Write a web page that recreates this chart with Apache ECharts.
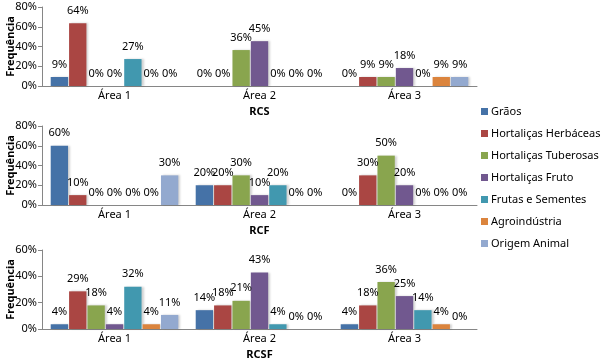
<!DOCTYPE html>
<html>
<head>
<meta charset="utf-8">
<script src="https://cdn.jsdelivr.net/npm/echarts@6/dist/echarts.min.js"></script>
<style>
  html, body { margin: 0; padding: 0; background: #ffffff; }
  #chart { width: 605px; height: 362px; }
</style>
</head>
<body>
<div id="chart"></div>
<script>
// categorias e séries
const areas = ['Área 1', 'Área 2', 'Área 3'];
const seriesNames = ['Grãos', 'Hortaliças Herbáceas', 'Hortaliças Tuberosas', 'Hortaliças Fruto',
  'Frutas e Sementes', 'Agroindústria', 'Origem Animal'];
const colors = ['#4572A7', '#AA4643', '#89A54E', '#71588F', '#4198AF', '#DB843D', '#93A9CF'];

// valores (%) por série, na ordem Área 1, Área 2, Área 3
const rcsValues = [
  [9.1, 0, 0],
  [63.6, 0, 9.1],
  [0, 36.4, 9.1],
  [0, 45.4, 18.2],
  [27.3, 0, 0],
  [0, 0, 9.1],
  [0, 0, 9.1]
];
const rcfValues = [
  [60, 20, 0],
  [10, 20, 30],
  [0, 30, 50],
  [0, 10, 20],
  [0, 20, 0],
  [0, 0, 0],
  [30, 0, 0]
];
const rcsfValues = [
  [3.6, 14.3, 3.6],
  [28.6, 17.9, 17.9],
  [17.9, 21.4, 35.7],
  [3.6, 42.9, 25],
  [32.1, 3.6, 14.3],
  [3.6, 0, 3.6],
  [10.7, 0, 0]
];

const panelTitles = ['RCS', 'RCF', 'RCSF'];
const panelMax = [80, 80, 60];
const panelValues = [rcsValues, rcfValues, rcsfValues];

const font = 'Noto Sans';
const gridTops = [7, 126, 250];
const gridHeights = [79, 79, 79];

const myChart = echarts.init(document.getElementById('chart'), null, {renderer: 'canvas'});

const grids = [];
const xAxes = [];
const yAxes = [];
const series = [];

panelTitles.forEach((title, i) => {
  grids.push({left: 42, width: 435, top: gridTops[i], height: gridHeights[i], outerBoundsMode: 'none', containLabel: false});
  xAxes.push({
    type: 'category',
    gridIndex: i,
    data: areas,
    name: title,
    nameLocation: 'middle',
    nameGap: 20,
    nameMoveOverlap: false,
    nameTextStyle: {fontFamily: font, fontSize: 11, fontWeight: 'bold', color: '#000'},
    axisLine: {lineStyle: {color: '#868686'}},
    axisTick: {show: false},
    axisLabel: {fontFamily: font, fontSize: 11, color: '#000', margin: 4}
  });
  yAxes.push({
    type: 'value',
    gridIndex: i,
    min: 0,
    max: panelMax[i],
    interval: 20,
    name: 'Frequência',
    nameLocation: 'middle',
    nameGap: 26,
    nameMoveOverlap: false,
    nameTextStyle: {fontFamily: font, fontSize: 11, fontWeight: 'bold', color: '#000'},
    axisLine: {show: true, lineStyle: {color: '#868686'}},
    axisTick: {show: true, length: 4, lineStyle: {color: '#868686'}},
    splitLine: {show: false},
    axisLabel: {fontFamily: font, fontSize: 11, color: '#000', margin: 5, formatter: '{value}%'}
  });
  seriesNames.forEach((name, s) => {
    series.push({
      name: name,
      type: 'bar',
      xAxisIndex: i,
      yAxisIndex: i,
      data: panelValues[i][s],
      barCategoryGap: '12%',
      barGap: '6%',
      itemStyle: {
        color: colors[s],
        shadowColor: 'rgba(0,0,0,0.18)',
        shadowOffsetX: 2,
        shadowBlur: 2
      },
      label: {
        show: true,
        position: 'top',
        distance: 7,
        fontFamily: font,
        fontSize: 11,
        color: '#000',
        formatter: p => Math.round(p.value) + '%'
      }
    });
  });
});

const option = {
  animation: false,
  color: colors,
  legend: {
    data: seriesNames,
    orient: 'vertical',
    left: 476,
    top: 101,
    icon: 'rect',
    itemWidth: 7,
    itemHeight: 7,
    itemGap: 11,
    textStyle: {fontFamily: font, fontSize: 11, color: '#000', padding: [0, 0, 0, -2]}
  },
  grid: grids,
  xAxis: xAxes,
  yAxis: yAxes,
  series: series
};

myChart.setOption(option);
</script>
</body>
</html>
